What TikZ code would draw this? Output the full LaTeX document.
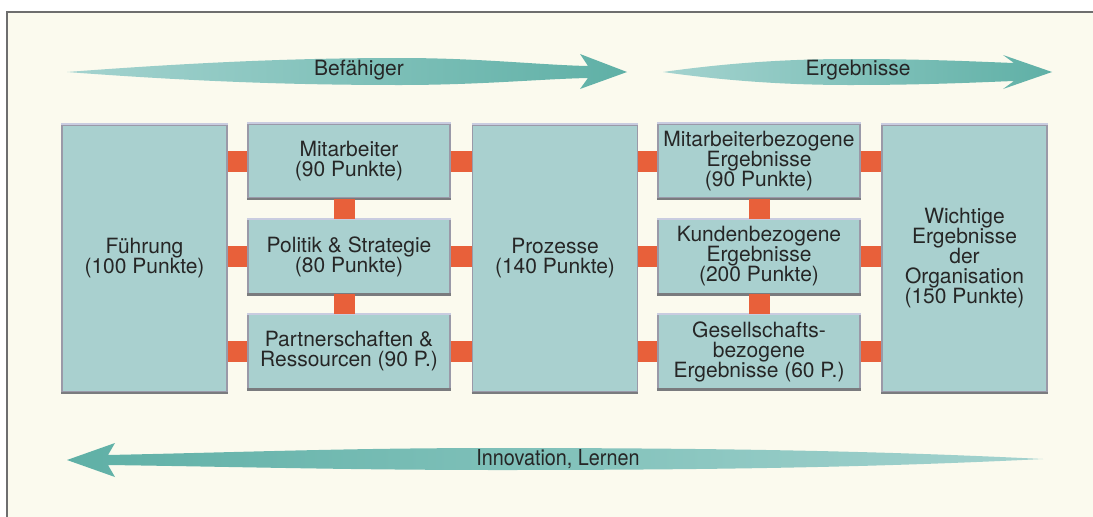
\documentclass[tikz,border=0pt]{standalone}
\usepackage{fontspec}
\usepackage{graphicx}
\setmainfont{TeX Gyre Heros}
\definecolor{bg}{HTML}{FBFAEE}
\definecolor{boxfill}{HTML}{A9D0CF}
\definecolor{arrowdark}{HTML}{5FB0A6}
\definecolor{arrowlight}{HTML}{A4D3CF}
\definecolor{connred}{HTML}{E8603A}
\definecolor{edgegray}{HTML}{9A99A8}
\definecolor{edgedark}{HTML}{7A7B7E}
\definecolor{edgelight}{HTML}{C9CCE0}
\definecolor{framegray}{HTML}{6E6E6E}
\definecolor{txt}{HTML}{262626}
\tikzset{
  boxbase/.style={rectangle, fill=boxfill, draw=edgegray, line width=1.6pt,
    align=center, text=txt, inner sep=0pt,
    font=\fontsize{21}{20}\selectfont},
  bigbox/.style={boxbase, minimum width=165pt, minimum height=267pt},
  smallbox/.style={boxbase, minimum width=202pt, minimum height=74pt},
  connbar/.style={connred, line width=21pt},
  arrowlbl/.style={text=txt, inner sep=0pt, font=\fontsize{21}{21}\selectfont},
}
\begin{document}
\begin{tikzpicture}[x=1pt,y=-1pt]
\useasboundingbox (0,0) rectangle (1093,517);
\fill[white] (0,0) rectangle (1093,517);
\fill[bg] (7,12) rectangle (1093,517);
\draw[framegray, line width=1.5pt] (7,517) -- (7,12) -- (1093,12);

% big arrows
\shade[left color=arrowlight, right color=arrowdark]
  (67,72) .. controls (200,62) and (300,58) .. (400,58)
  .. controls (480,58) and (540,65) .. (588,66) -- (580,54) -- (627,72)
  -- (580,89) -- (588,78) .. controls (540,79) and (480,85) .. (400,85)
  .. controls (300,85) and (200,82) .. (67,72) -- cycle;
\shade[left color=arrowlight, right color=arrowdark]
  (663,72) .. controls (720,64) and (780,59) .. (850,59)
  .. controls (930,59) and (985,62) .. (1014,63) -- (1003,55) -- (1052,72)
  -- (1003,89) -- (1014,81) .. controls (985,82) and (930,85) .. (850,85)
  .. controls (780,85) and (720,80) .. (663,72) -- cycle;
\shade[left color=arrowdark, right color=arrowlight]
  (67,460) -- (115,443) -- (108,455) .. controls (250,452) and (350,448) .. (500,448)
  .. controls (750,448) and (900,452) .. (1043,459)
  .. controls (900,466) and (750,470) .. (500,470)
  .. controls (350,470) and (250,467) .. (108,465) -- (115,477) -- cycle;

\node[arrowlbl] (befL) at (359,70) {Befähiger};
\node[arrowlbl] (ergL) at (858,70) {Ergebnisse};
\node[arrowlbl] (innL) at (558,459) {\scalebox{0.9}[1]{\fontsize{22}{22}\selectfont Innovation, Lernen}};

% boxes
\node[bigbox] (fuehrung) at (144.5,258.5) {Führung\\(100 Punkte)};
\node[smallbox] (mit) at (349,161) {Mitarbeiter\\(90 Punkte)};
\node[smallbox] (pol) at (349,256.5) {Politik \& Strategie\\(80 Punkte)};
\node[smallbox] (par) at (349,351.5) {Partnerschaften \&\\Ressourcen (90 P.)};
\node[bigbox] (proz) at (555,258.5) {Prozesse\\(140 Punkte)};
\node[smallbox] (mbe) at (759,161) {Mitarbeiterbezogene\\Ergebnisse\\(90 Punkte)};
\node[smallbox] (kbe) at (759,256.5) {Kundenbezogene\\Ergebnisse\\(200 Punkte)};
\node[smallbox] (gbe) at (759,351.5) {Gesellschafts-\\bezogene\\Ergebnisse (60 P.)};
\node[bigbox] (wich) at (964.5,258.5) {Wichtige\\Ergebnisse\\der\\Organisation\\(150 Punkte)};

% bevel edges
\foreach \n in {fuehrung,mit,pol,par,proz,mbe,kbe,gbe,wich}{
  \draw[edgelight, line width=2pt] (\n.north west) -- (\n.north east);
  \draw[edgedark, line width=2.5pt] (\n.south west) -- (\n.south east);
}

% connectors
\foreach \s in {mit,pol,par}{
  \draw[connbar] (\s.west) -- (\s.west -| fuehrung.east);
  \draw[connbar] (\s.east) -- (\s.east -| proz.west);
}
\foreach \s in {mbe,kbe,gbe}{
  \draw[connbar] (\s.west) -- (\s.west -| proz.east);
  \draw[connbar] (\s.east) -- (\s.east -| wich.west);
}
\draw[connbar] ([xshift=-5pt]mit.south) -- ([xshift=-5pt]pol.north);
\draw[connbar] ([xshift=-5pt]pol.south) -- ([xshift=-5pt]par.north);
\draw[connbar] (mbe.south) -- (kbe.north);
\draw[connbar] (kbe.south) -- (gbe.north);
\end{tikzpicture}
\end{document}
